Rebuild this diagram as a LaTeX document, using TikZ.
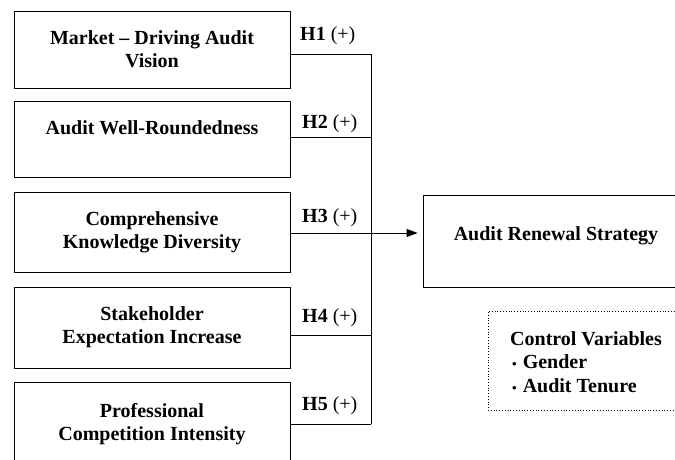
\documentclass[tikz,border=0pt]{standalone}
\usepackage{fontspec}
\setmainfont{Liberation Serif}
\usetikzlibrary{arrows.meta}
\begin{document}
\begin{tikzpicture}[x=1pt,y=-1pt,
  box/.style={draw, line width=0.9pt, minimum width=276pt, inner sep=0pt, align=center, font=\fontsize{20}{23}\selectfont\bfseries},
  hlab/.style={anchor=base west, inner sep=0pt, font=\fontsize{20}{23}\selectfont},
  link/.style={line width=0.9pt}]
\useasboundingbox (0,0) rectangle (675,459);
\clip (0,0) rectangle (675,459);
% predictor boxes
\node[box, minimum height=77pt] (b1) at (152,49.5) {Market – Driving Audit\\Vision};
\node[box, minimum height=76pt] (b2) at (152,139) {Audit Well-Roundedness\\[-8pt]\strut};
\node[box, minimum height=80pt] (b3) at (152,232) {Comprehensive\\Knowledge Diversity};
\node[box, minimum height=81pt] (b4) at (152,327.5) {Stakeholder\\Expectation Increase};
\node[box, minimum height=84pt] (b5) at (152,424) {Professional\\Competition Intensity};
% outcome
\node[box, minimum width=266pt, minimum height=92pt] (ren) at (556,241) {Audit Renewal Strategy\\[-15pt]\strut};
% control variables
\node[draw, dotted, line width=0.8pt, minimum width=202pt, minimum height=99pt, inner sep=0pt] (ctrl) at (589,360.5) {};
\node[anchor=west, inner sep=0pt, align=left, font=\fontsize{20}{23.5}\selectfont\bfseries] (ctrltext) at (510,362)
  {Control Variables\\\hspace{2pt}{\fontsize{13}{13}\selectfont•}\hspace{6pt}Gender\\\hspace{2pt}{\fontsize{13}{13}\selectfont•}\hspace{6pt}Audit Tenure};
% junctions
\coordinate (j1) at (371,54);
\coordinate (j2) at (371,137);
\coordinate (j3) at (371,233);
\coordinate (j4) at (371,335);
\coordinate (j5) at (371,424);
\draw[link] (b1.east |- j1) -- (j1);
\draw[link] (b2.east |- j2) -- (j2);
\draw[link] (b3.east |- j3) -- (j3);
\draw[link] (b4.east |- j4) -- (j4);
\draw[link] (b5.east |- j5) -- (j5);
\draw[link] (j1) -- (j5);
\draw[link, -{Triangle[length=11pt,width=8pt]}, shorten >=5pt] (j3) -- (ren.west |- j3);
% hypothesis labels
\node[hlab] (h1) at (300,40) {\textbf{H1} (+)};
\node[hlab] (h2) at (302,128) {\textbf{H2} (+)};
\node[hlab] (h3) at (302,222) {\textbf{H3} (+)};
\node[hlab] (h4) at (302,322) {\textbf{H4} (+)};
\node[hlab] (h5) at (302,410) {\textbf{H5} (+)};
\end{tikzpicture}
\end{document}
